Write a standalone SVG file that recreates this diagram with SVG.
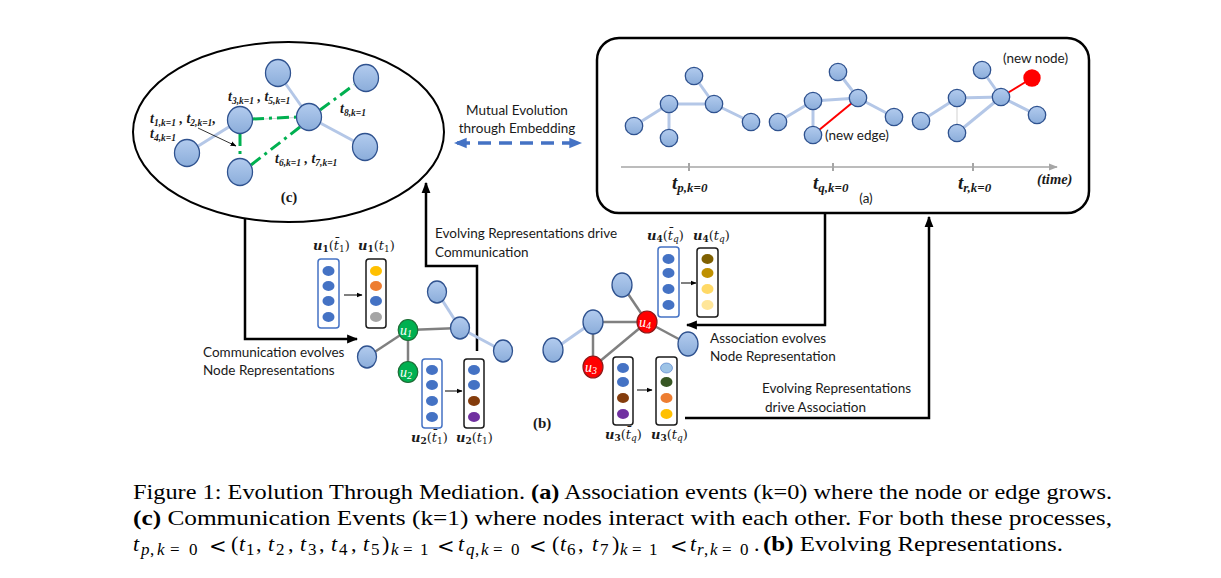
<svg xmlns="http://www.w3.org/2000/svg" width="1221" height="578" viewBox="0 0 1221 578">
<style>
.nd{fill:url(#nb);stroke:#2f528f;stroke-width:1.3}
.le{stroke:#b4c7e7;stroke-width:3;fill:none}
.ge{stroke:#808080;stroke-width:2.5;fill:none}
.gd{stroke:#00b050;stroke-width:3;stroke-dasharray:12 5 3 5;fill:none}
.conn{stroke:#000;stroke-width:2.5;fill:none}
.sans{font-family:Lato,"Open Sans",sans-serif;font-size:13.5px;fill:#1a1a1a}
.mb{font-family:"Liberation Serif",serif;font-weight:bold;font-style:italic;fill:#1a1a1a}
.vb{fill:#fff;stroke:#4472c4;stroke-width:1.5}
.vk{fill:#fff;stroke:#1a1a1a;stroke-width:1.5}
.cap{font-family:"Liberation Serif",serif;font-size:22px;fill:#000}
.sub{font-family:"Liberation Serif",serif;font-size:17px;fill:#000}
.lt{font-family:"DejaVu Serif",serif;font-size:21px;fill:#000}
.it{font-style:italic}
.lab{font-family:"DejaVu Serif",serif;font-size:13px;fill:#1a1a1a}
</style>
<defs>
<linearGradient id="nb" x1="0" y1="0" x2="0" y2="1">
<stop offset="0" stop-color="#b2cbee"/>
<stop offset="1" stop-color="#8badda"/>
</linearGradient>
<marker id="ah" viewBox="0 0 10 10" refX="9" refY="5" markerWidth="11" markerHeight="11" markerUnits="userSpaceOnUse" orient="auto"><path d="M0,1 L10,5 L0,9 z" fill="#000"/></marker>
<marker id="sa" viewBox="0 0 10 10" refX="9" refY="5" markerWidth="6" markerHeight="6" markerUnits="userSpaceOnUse" orient="auto"><path d="M0,1 L10,5 L0,9 z" fill="#000"/></marker>
<marker id="ga" viewBox="0 0 10 10" refX="9" refY="5" markerWidth="9" markerHeight="9" markerUnits="userSpaceOnUse" orient="auto"><path d="M0,1 L10,5 L0,9 z" fill="#a6a6a6"/></marker>
<marker id="ba" viewBox="0 0 10 10" refX="9" refY="5" markerWidth="13" markerHeight="13" markerUnits="userSpaceOnUse" orient="auto-start-reverse"><path d="M0,1 L10,5 L0,9 z" fill="#4472c4"/></marker>
</defs>
<rect width="1221" height="578" fill="#fff"/>

<!-- (c) ellipse -->
<g id="panel-c">
<ellipse cx="288.5" cy="132" rx="155.5" ry="90" fill="#fff" stroke="#000" stroke-width="2"/>
<line x1="240" y1="120" x2="309" y2="117" stroke="#d0d0d0" stroke-width="1"/>
<line class="le" x1="278" y1="73" x2="309" y2="117"/>
<line class="le" x1="309" y1="117" x2="365" y2="147"/>
<line class="le" x1="240" y1="120" x2="187" y2="153"/>
<line class="gd" x1="252" y1="119" x2="297" y2="117"/>
<line class="gd" x1="320" y1="110" x2="354" y2="85"/>
<line class="gd" x1="300" y1="127" x2="251" y2="165"/>
<line class="gd" x1="240" y1="134" x2="240" y2="158"/>
<ellipse class="nd" cx="278" cy="73" rx="12.5" ry="13.5"/>
<ellipse class="nd" cx="366" cy="78" rx="12.5" ry="13.5"/>
<ellipse class="nd" cx="309" cy="117" rx="12.5" ry="13.5"/>
<ellipse class="nd" cx="365" cy="147" rx="12.5" ry="13.5"/>
<ellipse class="nd" cx="240" cy="120" rx="12.5" ry="13.5"/>
<ellipse class="nd" cx="187" cy="153" rx="12.5" ry="13.5"/>
<ellipse class="nd" cx="240" cy="172" rx="12.5" ry="13.5"/>
<line x1="198" y1="128" x2="236" y2="146" stroke="#000" stroke-width="0.8" marker-end="url(#sa)"/>
<text class="mb" x="228" y="101" font-size="14">t<tspan font-size="9.5" dy="2.5">3,k=1</tspan><tspan dy="-2.5"> , t</tspan><tspan font-size="9.5" dy="2.5">5,k=1</tspan></text>
<text class="mb" x="340" y="113" font-size="14">t<tspan font-size="9.5" dy="2.5">8,k=1</tspan></text>
<text class="mb" x="150" y="123" font-size="14">t<tspan font-size="9.5" dy="2.5">1,k=1</tspan><tspan dy="-2.5"> , t</tspan><tspan font-size="9.5" dy="2.5">2,k=1</tspan><tspan dy="-2.5">,</tspan></text>
<text class="mb" x="150" y="138" font-size="14">t<tspan font-size="9.5" dy="2.5">4,k=1</tspan></text>
<text class="mb" x="275" y="163" font-size="14">t<tspan font-size="9.5" dy="2.5">6,k=1</tspan><tspan dy="-2.5"> , t</tspan><tspan font-size="9.5" dy="2.5">7,k=1</tspan></text>
<text x="289" y="202" font-family="Liberation Serif,serif" font-weight="bold" font-size="15" text-anchor="middle" fill="#1a1a1a">(c)</text>
</g>

<!-- mutual evolution -->
<g id="mutual">
<text class="sans" x="517" y="115" text-anchor="middle">Mutual Evolution</text>
<text class="sans" x="517" y="133" text-anchor="middle">through Embedding</text>
<line x1="455" y1="143" x2="581" y2="143" stroke="#4472c4" stroke-width="3.5" stroke-dasharray="13 8" stroke-dashoffset="-2" marker-start="url(#ba)" marker-end="url(#ba)"/>
</g>

<!-- (a) box -->
<g id="panel-a">
<rect x="597" y="38" width="492" height="175" rx="22" fill="#fff" stroke="#000" stroke-width="2.5"/>
<line x1="621" y1="167" x2="1057" y2="167" stroke="#a6a6a6" stroke-width="1.5" marker-end="url(#ga)"/>
<line x1="689" y1="163" x2="689" y2="171" stroke="#a6a6a6" stroke-width="2"/>
<line x1="833" y1="163" x2="833" y2="171" stroke="#a6a6a6" stroke-width="2"/>
<line x1="973" y1="163" x2="973" y2="171" stroke="#a6a6a6" stroke-width="2"/>
<line class="le" x1="634" y1="126" x2="669" y2="104"/>
<line class="le" x1="669" y1="104" x2="669" y2="138"/>
<line class="le" x1="669" y1="104" x2="714" y2="104"/>
<line class="le" x1="694" y1="76" x2="714" y2="104"/>
<line class="le" x1="714" y1="104" x2="751" y2="122"/>
<circle class="nd" cx="634" cy="126" r="8.7"/>
<circle class="nd" cx="669" cy="104" r="8.7"/>
<circle class="nd" cx="669" cy="138" r="8.7"/>
<circle class="nd" cx="694" cy="76" r="8.7"/>
<circle class="nd" cx="714" cy="104" r="8.7"/>
<circle class="nd" cx="751" cy="122" r="8.7"/>
<line class="le" x1="778" y1="122" x2="813" y2="101"/>
<line class="le" x1="813" y1="101" x2="813" y2="135"/>
<line class="le" x1="813" y1="101" x2="858" y2="98"/>
<line class="le" x1="838" y1="72" x2="858" y2="98"/>
<line class="le" x1="858" y1="98" x2="894" y2="117"/>
<line x1="813" y1="135" x2="858" y2="98" stroke="#ff0000" stroke-width="2"/>
<circle class="nd" cx="778" cy="122" r="8.7"/>
<circle class="nd" cx="813" cy="101" r="8.7"/>
<circle class="nd" cx="813" cy="135" r="8.7"/>
<circle class="nd" cx="838" cy="72" r="8.7"/>
<circle class="nd" cx="858" cy="98" r="8.7"/>
<circle class="nd" cx="894" cy="117" r="8.7"/>
<line class="le" x1="921" y1="121" x2="957" y2="98"/>
<line x1="957" y1="98" x2="957" y2="133" stroke="#d9d9d9" stroke-width="1.2"/>
<line class="le" x1="957" y1="98" x2="1001" y2="97"/>
<line class="le" x1="957" y1="133" x2="1001" y2="97"/>
<line class="le" x1="982" y1="70" x2="1001" y2="97"/>
<line class="le" x1="1001" y1="97" x2="1037" y2="115"/>
<line x1="1001" y1="97" x2="1032" y2="78" stroke="#ff0000" stroke-width="2"/>
<circle class="nd" cx="921" cy="121" r="8.7"/>
<circle class="nd" cx="957" cy="98" r="8.7"/>
<circle class="nd" cx="957" cy="133" r="8.7"/>
<circle class="nd" cx="982" cy="70" r="8.7"/>
<circle class="nd" cx="1001" cy="97" r="8.7"/>
<circle class="nd" cx="1037" cy="115" r="8.7"/>
<circle cx="1032" cy="78" r="8.7" fill="#ff0000"/>
<text class="sans" x="1003" y="63" font-size="13">(new node)</text>
<text class="sans" x="825" y="140" font-size="13">(new edge)</text>
<text class="sans" x="866" y="203" font-size="13" text-anchor="middle">(a)</text>
<text x="1037" y="184" font-family="Liberation Serif,serif" font-style="italic" font-weight="bold" font-size="14.5" fill="#1a1a1a">(time)</text>
<text class="mb" x="672" y="189" font-size="19">t<tspan font-size="13" dy="3">p,k=0</tspan></text>
<text class="mb" x="813" y="189" font-size="19">t<tspan font-size="13" dy="3">q,k=0</tspan></text>
<text class="mb" x="958" y="189" font-size="19">t<tspan font-size="13" dy="3">r,k=0</tspan></text>
</g>

<!-- connectors -->
<g id="connectors">
<path class="conn" d="M245,218 V339 H357" marker-end="url(#ah)"/>
<path class="conn" d="M477,351 V266 H426 V183" marker-end="url(#ah)"/>
<path class="conn" d="M825,213 V325 H687" marker-end="url(#ah)"/>
<path class="conn" d="M685,418 H929 V217" marker-end="url(#ah)"/>
<text class="sans" x="435" y="238">Evolving Representations drive</text>
<text class="sans" x="435" y="257">Communication</text>
<text class="sans" x="203" y="357">Communication evolves</text>
<text class="sans" x="203" y="375">Node Representations</text>
<text class="sans" x="710" y="343">Association evolves</text>
<text class="sans" x="710" y="361">Node Representation</text>
<text class="sans" x="762" y="393">Evolving Representations</text>
<text class="sans" x="765" y="412">drive Association</text>
</g>

<!-- (b) left graph -->
<g id="graph-b1">
<line class="le" x1="437" y1="292" x2="460" y2="328"/>
<line class="le" x1="460" y1="328" x2="503" y2="351"/>
<line class="ge" x1="408" y1="330" x2="367" y2="357"/>
<line class="ge" x1="408" y1="330" x2="408" y2="372"/>
<line class="ge" x1="408" y1="330" x2="460" y2="328"/>
<ellipse class="nd" cx="367" cy="357" rx="9.5" ry="11"/>
<ellipse class="nd" cx="460" cy="328" rx="9.5" ry="11"/>
<ellipse class="nd" cx="437" cy="292" rx="9.5" ry="11"/>
<ellipse class="nd" cx="503" cy="351" rx="9.5" ry="11"/>
<ellipse cx="408" cy="330" rx="9.8" ry="10.5" fill="#00b050" stroke="#1e6b35" stroke-width="1.2"/>
<ellipse cx="408" cy="372" rx="9.8" ry="10.5" fill="#00b050" stroke="#1e6b35" stroke-width="1.2"/>
<text x="400" y="335" font-family="Liberation Serif,serif" font-style="italic" font-size="14" fill="#fff">u<tspan font-size="10" dy="2">1</tspan></text>
<text x="400" y="377" font-family="Liberation Serif,serif" font-style="italic" font-size="14" fill="#fff">u<tspan font-size="10" dy="2">2</tspan></text>
</g>

<!-- (b) right graph -->
<g id="graph-b2">
<line class="le" x1="553" y1="350" x2="593" y2="322"/>
<line class="ge" x1="622" y1="285" x2="647" y2="322"/>
<line class="ge" x1="593" y1="322" x2="647" y2="322"/>
<line class="ge" x1="647" y1="322" x2="688" y2="344"/>
<line class="ge" x1="647" y1="322" x2="593" y2="367"/>
<line class="ge" x1="593" y1="322" x2="593" y2="367"/>
<ellipse class="nd" cx="622" cy="285" rx="10" ry="12"/>
<ellipse class="nd" cx="593" cy="322" rx="10" ry="12"/>
<ellipse class="nd" cx="553" cy="350" rx="10" ry="12"/>
<ellipse class="nd" cx="688" cy="344" rx="10" ry="12"/>
<ellipse cx="647" cy="322" rx="10" ry="11" fill="#ff0000" stroke="#8b1a1a" stroke-width="1.2"/>
<ellipse cx="593" cy="367" rx="10" ry="11" fill="#ff0000" stroke="#8b1a1a" stroke-width="1.2"/>
<text x="639" y="327" font-family="Liberation Serif,serif" font-style="italic" font-size="14" fill="#fff">u<tspan font-size="10" dy="2">4</tspan></text>
<text x="585" y="372" font-family="Liberation Serif,serif" font-style="italic" font-size="14" fill="#fff">u<tspan font-size="10" dy="2">3</tspan></text>
<text x="533" y="428" font-family="Liberation Serif,serif" font-weight="bold" font-size="15" fill="#1a1a1a">(b)</text>
</g>

<!-- u1 vectors -->
<g id="vec-u1">
<rect class="vb" x="318" y="259" width="21" height="69" rx="3"/>
<ellipse cx="328.5" cy="271" rx="6" ry="5" fill="#4472c4"/>
<ellipse cx="328.5" cy="286" rx="6" ry="5" fill="#4472c4"/>
<ellipse cx="328.5" cy="301" rx="6" ry="5" fill="#4472c4"/>
<ellipse cx="328.5" cy="317" rx="6" ry="5" fill="#4472c4"/>
<line x1="344" y1="295" x2="362" y2="295" stroke="#000" stroke-width="1" marker-end="url(#sa)"/>
<rect class="vk" x="366" y="259" width="20" height="69" rx="3"/>
<ellipse cx="376" cy="271" rx="6" ry="5" fill="#ffc000"/>
<ellipse cx="376" cy="286" rx="6" ry="5" fill="#ed7d31"/>
<ellipse cx="376" cy="301" rx="6" ry="5" fill="#4472c4"/>
<ellipse cx="376" cy="317" rx="6" ry="5" fill="#a5a5a5"/>
<text class="lab" x="313" y="250"><tspan font-weight="bold" font-style="italic">u</tspan><tspan font-weight="bold" font-size="9" dy="2">1</tspan><tspan dy="-2">(</tspan><tspan font-style="italic">t̄</tspan><tspan font-size="9" dy="2">1</tspan><tspan dy="-2">)</tspan></text>
<text class="lab" x="358" y="250"><tspan font-weight="bold" font-style="italic">u</tspan><tspan font-weight="bold" font-size="9" dy="2">1</tspan><tspan dy="-2">(</tspan><tspan font-style="italic">t</tspan><tspan font-size="9" dy="2">1</tspan><tspan dy="-2">)</tspan></text>
</g>

<!-- u2 vectors -->
<g id="vec-u2">
<rect class="vb" x="422" y="359" width="20" height="69" rx="3"/>
<ellipse cx="432" cy="370" rx="6" ry="5" fill="#4472c4"/>
<ellipse cx="432" cy="385" rx="6" ry="5" fill="#4472c4"/>
<ellipse cx="432" cy="401" rx="6" ry="5" fill="#4472c4"/>
<ellipse cx="432" cy="417" rx="6" ry="5" fill="#4472c4"/>
<line x1="445" y1="391" x2="462" y2="391" stroke="#000" stroke-width="1" marker-end="url(#sa)"/>
<rect class="vk" x="464" y="359" width="20" height="69" rx="3"/>
<ellipse cx="474" cy="370" rx="6" ry="5" fill="#4472c4"/>
<ellipse cx="474" cy="385" rx="6" ry="5" fill="#4472c4"/>
<ellipse cx="474" cy="401" rx="6" ry="5" fill="#843c0c"/>
<ellipse cx="474" cy="417" rx="6" ry="5" fill="#7030a0"/>
<text class="lab" x="411" y="442"><tspan font-weight="bold" font-style="italic">u</tspan><tspan font-weight="bold" font-size="9" dy="2">2</tspan><tspan dy="-2">(</tspan><tspan font-style="italic">t̄</tspan><tspan font-size="9" dy="2">1</tspan><tspan dy="-2">)</tspan></text>
<text class="lab" x="456" y="442"><tspan font-weight="bold" font-style="italic">u</tspan><tspan font-weight="bold" font-size="9" dy="2">2</tspan><tspan dy="-2">(</tspan><tspan font-style="italic">t</tspan><tspan font-size="9" dy="2">1</tspan><tspan dy="-2">)</tspan></text>
</g>

<!-- u4 vectors -->
<g id="vec-u4">
<rect class="vb" x="658" y="247" width="21" height="70" rx="3"/>
<ellipse cx="668.5" cy="259" rx="6" ry="5" fill="#4472c4"/>
<ellipse cx="668.5" cy="273" rx="6" ry="5" fill="#4472c4"/>
<ellipse cx="668.5" cy="289" rx="6" ry="5" fill="#4472c4"/>
<ellipse cx="668.5" cy="305" rx="6" ry="5" fill="#4472c4"/>
<line x1="681" y1="283" x2="696" y2="283" stroke="#000" stroke-width="1" marker-end="url(#sa)"/>
<rect class="vk" x="697" y="248" width="21" height="69" rx="3"/>
<ellipse cx="707.5" cy="259" rx="6" ry="5" fill="#7f6000"/>
<ellipse cx="707.5" cy="273" rx="6" ry="5" fill="#bf9000"/>
<ellipse cx="707.5" cy="289" rx="6" ry="5" fill="#ffd966"/>
<ellipse cx="707.5" cy="305" rx="6" ry="5" fill="#ffe699"/>
<text class="lab" x="647" y="240"><tspan font-weight="bold" font-style="italic">u</tspan><tspan font-weight="bold" font-size="9" dy="2">4</tspan><tspan dy="-2">(</tspan><tspan font-style="italic">t̄</tspan><tspan font-size="9" font-style="italic" dy="2">q</tspan><tspan dy="-2">)</tspan></text>
<text class="lab" x="693" y="240"><tspan font-weight="bold" font-style="italic">u</tspan><tspan font-weight="bold" font-size="9" dy="2">4</tspan><tspan dy="-2">(</tspan><tspan font-style="italic">t</tspan><tspan font-size="9" font-style="italic" dy="2">q</tspan><tspan dy="-2">)</tspan></text>
</g>

<!-- u3 vectors -->
<g id="vec-u3">
<rect class="vk" x="613" y="357" width="20" height="68" rx="3"/>
<ellipse cx="623" cy="368" rx="6" ry="5" fill="#4472c4"/>
<ellipse cx="623" cy="382" rx="6" ry="5" fill="#4472c4"/>
<ellipse cx="623" cy="398" rx="6" ry="5" fill="#843c0c"/>
<ellipse cx="623" cy="414" rx="6" ry="5" fill="#7030a0"/>
<line x1="637" y1="390" x2="652" y2="390" stroke="#000" stroke-width="1" marker-end="url(#sa)"/>
<rect class="vk" x="656" y="357" width="21" height="68" rx="3"/>
<ellipse cx="666.5" cy="368" rx="6" ry="5" fill="#9dc3e6" stroke="#4472c4" stroke-width="0.6"/>
<ellipse cx="666.5" cy="382" rx="6" ry="5" fill="#375623"/>
<ellipse cx="666.5" cy="398" rx="6" ry="5" fill="#ed7d31"/>
<ellipse cx="666.5" cy="414" rx="6" ry="5" fill="#ffc000"/>
<text class="lab" x="605" y="439"><tspan font-weight="bold" font-style="italic">u</tspan><tspan font-weight="bold" font-size="9" dy="2">3</tspan><tspan dy="-2">(</tspan><tspan font-style="italic">t̄</tspan><tspan font-size="9" font-style="italic" dy="2">q</tspan><tspan dy="-2">)</tspan></text>
<text class="lab" x="651" y="439"><tspan font-weight="bold" font-style="italic">u</tspan><tspan font-weight="bold" font-size="9" dy="2">3</tspan><tspan dy="-2">(</tspan><tspan font-style="italic">t</tspan><tspan font-size="9" font-style="italic" dy="2">q</tspan><tspan dy="-2">)</tspan></text>
</g>

<!-- caption -->
<g id="caption">
<text class="cap" x="133" y="499" textLength="979" lengthAdjust="spacingAndGlyphs">Figure 1: Evolution Through Mediation. <tspan font-weight="bold">(a)</tspan> Association events (k=0) where the node or edge grows.</text>
<text class="cap" x="133" y="525" textLength="979" lengthAdjust="spacingAndGlyphs"><tspan font-weight="bold">(c)</tspan> Communication Events (k=1) where nodes interact with each other. For both these processes,</text>
<text class="cap" y="551"><tspan class="it" x="133">t</tspan><tspan x="231">(</tspan><tspan class="it" x="239">t</tspan><tspan x="256">,</tspan><tspan class="it" x="268">t</tspan><tspan x="288">,</tspan><tspan class="it" x="300">t</tspan><tspan x="319">,</tspan><tspan class="it" x="331">t</tspan><tspan x="351">,</tspan><tspan class="it" x="363">t</tspan><tspan x="382">)</tspan><tspan class="it" x="458">t</tspan><tspan x="552">(</tspan><tspan class="it" x="560">t</tspan><tspan x="578">,</tspan><tspan class="it" x="592">t</tspan><tspan x="612">)</tspan><tspan class="it" x="690">t</tspan><tspan x="754">.</tspan></text>
<text class="lt" y="553"><tspan x="209">&lt;</tspan><tspan x="437">&lt;</tspan><tspan x="529">&lt;</tspan><tspan x="670">&lt;</tspan></text>
<text class="sub" y="555"><tspan class="it" x="141">p</tspan><tspan x="150">,</tspan><tspan class="it" x="157">k</tspan><tspan x="170">=</tspan><tspan x="189">0</tspan></text>
<text class="sub" y="555"><tspan x="246">1</tspan><tspan x="276">2</tspan><tspan x="308">3</tspan><tspan x="339">4</tspan><tspan x="371">5</tspan></text>
<text class="sub" y="555"><tspan class="it" x="391">k</tspan><tspan x="403">=</tspan><tspan x="420">1</tspan></text>
<text class="sub" y="555"><tspan class="it" x="466">q</tspan><tspan x="475">,</tspan><tspan class="it" x="481">k</tspan><tspan x="493">=</tspan><tspan x="511">0</tspan></text>
<text class="sub" y="555"><tspan x="567">6</tspan><tspan x="600">7</tspan></text>
<text class="sub" y="555"><tspan class="it" x="620">k</tspan><tspan x="632">=</tspan><tspan x="649">1</tspan></text>
<text class="sub" y="555"><tspan class="it" x="697">r</tspan><tspan x="704">,</tspan><tspan class="it" x="710">k</tspan><tspan x="722">=</tspan><tspan x="740">0</tspan></text>
<text class="cap" x="763" y="551" textLength="300" lengthAdjust="spacingAndGlyphs"><tspan font-weight="bold">(b)</tspan> Evolving Representations.</text>
</g>
</svg>
